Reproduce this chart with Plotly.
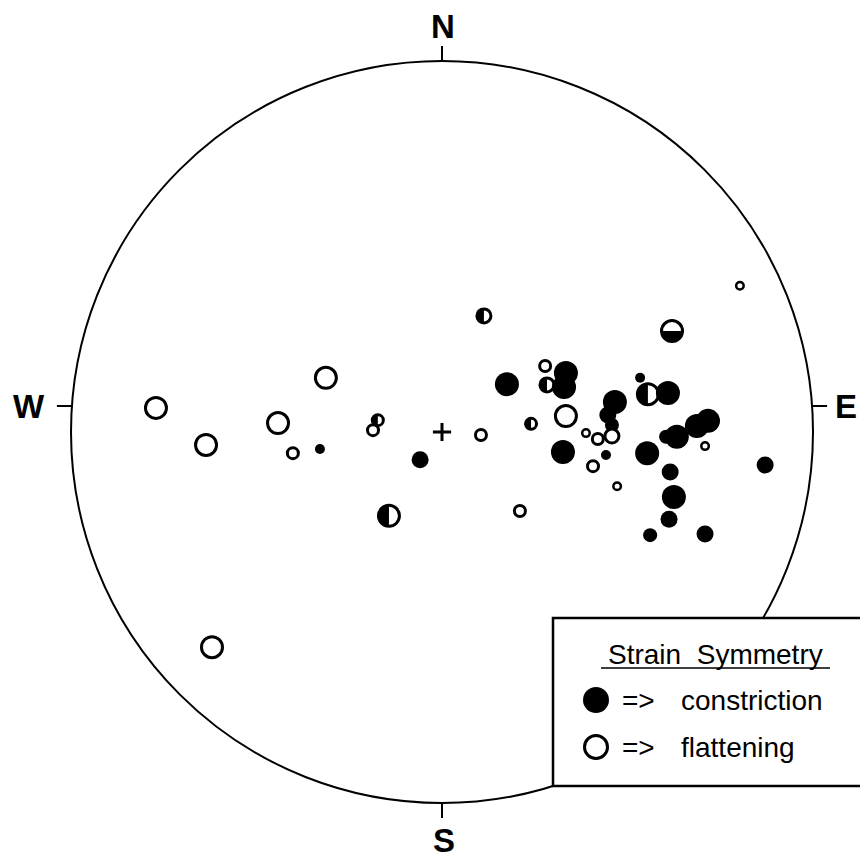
import numpy as np
import plotly.graph_objects as go

# ---- data: positions in the unit (primitive) circle, x = East, y = North ----
# magnitude class 1..4 (symbol size class)
con_x = [-0.329, -0.059, 0.175, 0.334, 0.329, 0.326, 0.466, 0.447, 0.458, 0.442, 0.534, 0.609,
         0.553, 0.604, 0.633, 0.687, 0.717, 0.615, 0.871, 0.625, 0.612, 0.561, 0.709]
con_y = [-0.046, -0.075, 0.129, 0.159, 0.121, -0.054, 0.081, 0.046, 0.019, -0.062, 0.146, 0.105,
         -0.057, -0.013, -0.013, 0.016, 0.030, -0.108, -0.089, -0.175, -0.235, -0.278, -0.275]
con_m = [1, 3, 4, 4, 4, 4, 4, 3, 2, 1, 1, 4,
         4, 2, 4, 4, 4, 3, 3, 4, 3, 2, 3]

fla_x = [-0.771, -0.636, -0.442, -0.313, -0.402, -0.620, -0.186, 0.105, 0.210, 0.278, 0.334,
         0.458, 0.420, 0.388, 0.407, 0.472, 0.709, 0.803]
fla_y = [0.065, -0.035, 0.024, 0.146, -0.057, -0.580, 0.005, -0.008, -0.213, 0.178, 0.043,
         -0.011, -0.019, -0.003, -0.092, -0.146, -0.038, 0.394]
fla_m = [4, 4, 4, 4, 2, 4, 2, 2, 2, 2, 4,
         3, 2, 1, 2, 1, 1, 1]

# intermediate symbols: half filled (left half black)
mixL_x = [0.113, -0.173, -0.143, 0.240, 0.283, 0.555]
mixL_y = [0.313, 0.032, -0.226, 0.022, 0.127, 0.102]
mixL_m = [3, 2, 4, 2, 3, 4]
# half filled (lower half black)
mixB_x = [0.620]
mixB_y = [0.272]
mixB_m = [4]

dirs = ["N", "E", "S", "W"]

# ---- styling / page geometry ----
PX = 371.0                       # pixels per unit radius
CX, CY = 442.0, 432.0            # page pixel of circle centre
OFF = 8                          # body margin of the html page
W_FIG, H_FIG = 860, 850
DIAM = {1: 10, 2: 14, 3: 17, 4: 24}
LW = 3


def ux(p):
    return (p - CX) / PX


def uy(p):
    return (CY - p) / PX


fig = go.Figure()

EW_Y = uy(406)   # E-W ticks drawn slightly above centre, as in the original drafting
shapes = [dict(type="circle", xref="x", yref="y", x0=-1, y0=-1, x1=1, y1=1,
               line=dict(color="black", width=2), layer="below")]
t = 15 / PX
xl = -np.sqrt(1 - EW_Y ** 2)
tick_defs = [(0, 1, 0, 1 + t), (0, -1, 0, -1 - t), (-xl, EW_Y, -xl + t, EW_Y), (xl, EW_Y, xl - t, EW_Y)]
for x0, y0, x1, y1 in tick_defs:
    shapes.append(dict(type="line", xref="x", yref="y", x0=x0, y0=y0, x1=x1, y1=y1,
                       line=dict(color="black", width=2), layer="below"))

# legend box
shapes.append(dict(type="rect", xref="x", yref="y", x0=ux(553), x1=ux(880),
                   y0=uy(786), y1=uy(618),
                   line=dict(color="black", width=2.5), fillcolor="white", layer="below"))
shapes.append(dict(type="line", xref="x", yref="y", x0=ux(601), x1=ux(830),
                   y0=uy(668), y1=uy(668),
                   line=dict(color="black", width=1.5), layer="below"))

# filled
fig.add_trace(go.Scatter(x=con_x, y=con_y, mode="markers", hoverinfo="skip",
                         marker=dict(symbol="circle", color="black", opacity=1,
                                     size=[DIAM[m] for m in con_m], line=dict(width=0))))
# open
fig.add_trace(go.Scatter(x=fla_x, y=fla_y, mode="markers", hoverinfo="skip",
                         marker=dict(symbol="circle", color="white", opacity=1,
                                     size=[DIAM[m] - (2.5 if m == 1 else LW) for m in fla_m],
                                     line=dict(width=[2.5 if m == 1 else LW for m in fla_m], color="black"))))


def half_polys(xs, ys, ms, a0, a1):
    px, py = [], []
    for x, y, m in zip(xs, ys, ms):
        r = (DIAM[m] / 2 - 1) / PX
        a = np.linspace(a0, a1, 40)
        px += list(x + r * np.cos(a)) + [None]
        py += list(y + r * np.sin(a)) + [None]
    return px, py


lx, ly = half_polys(mixL_x, mixL_y, mixL_m, np.pi / 2, 3 * np.pi / 2)
bx, by = half_polys(mixB_x, mixB_y, mixB_m, np.pi, 2 * np.pi)
for hx, hy in [(lx, ly), (bx, by)]:
    fig.add_trace(go.Scatter(x=hx, y=hy, mode="lines", fill="toself", fillcolor="black",
                             line=dict(width=0, color="black"), hoverinfo="skip"))
mx = mixL_x + mixB_x
my = mixL_y + mixB_y
mm = mixL_m + mixB_m
fig.add_trace(go.Scatter(x=mx, y=my, mode="markers", hoverinfo="skip",
                         marker=dict(symbol="circle", color="rgba(0,0,0,0)", opacity=1,
                                     size=[DIAM[m] - LW for m in mm],
                                     line=dict(width=LW, color="black"))))

# centre cross
fig.add_trace(go.Scatter(x=[0], y=[0], mode="markers", hoverinfo="skip",
                         marker=dict(symbol="cross-thin", size=13, line=dict(width=3, color="black"))))

# legend symbols
fig.add_trace(go.Scatter(x=[ux(596)], y=[uy(700)], mode="markers", hoverinfo="skip",
                         marker=dict(symbol="circle", color="black", size=26, line=dict(width=0))))
fig.add_trace(go.Scatter(x=[ux(596)], y=[uy(747)], mode="markers", hoverinfo="skip",
                         marker=dict(symbol="circle", color="white", size=23, line=dict(width=3, color="black"))))

ann = []
lab_pos = {"N": (443, 26), "E": (846, 406), "S": (444, 840), "W": (29, 406)}
for d in dirs:
    ann.append(dict(x=ux(lab_pos[d][0]), y=uy(lab_pos[d][1]), xref="x", yref="y", text="<b>%s</b>" % d,
                    showarrow=False, font=dict(family="Liberation Sans, Arial", size=33, color="black"),
                    xanchor="center", yanchor="middle", borderpad=0))

lf = dict(family="Liberation Sans, Arial", size=28, color="black")
ann.append(dict(x=ux(715), y=uy(654), xref="x", yref="y", text="Strain &nbsp;Symmetry",
                showarrow=False, font=lf, xanchor="center", yanchor="middle"))
for yy, txt in [(700, "constriction"), (747, "flattening")]:
    ann.append(dict(x=ux(638), y=uy(yy), xref="x", yref="y", text="=>",
                    showarrow=False, font=lf, xanchor="center", yanchor="middle"))
    ann.append(dict(x=ux(679), y=uy(yy), xref="x", yref="y", text=txt,
                    showarrow=False, font=lf, xanchor="left", yanchor="middle"))

fig.update_layout(
    width=W_FIG, height=H_FIG, margin=dict(l=0, r=0, t=0, b=0),
    paper_bgcolor="white", plot_bgcolor="white", showlegend=False,
    shapes=shapes, annotations=ann,
    xaxis=dict(range=[ux(OFF), ux(OFF + W_FIG)], visible=False, fixedrange=True),
    yaxis=dict(range=[uy(OFF + H_FIG), uy(OFF)], visible=False, fixedrange=True),
)
fig.write_html("out.html")
